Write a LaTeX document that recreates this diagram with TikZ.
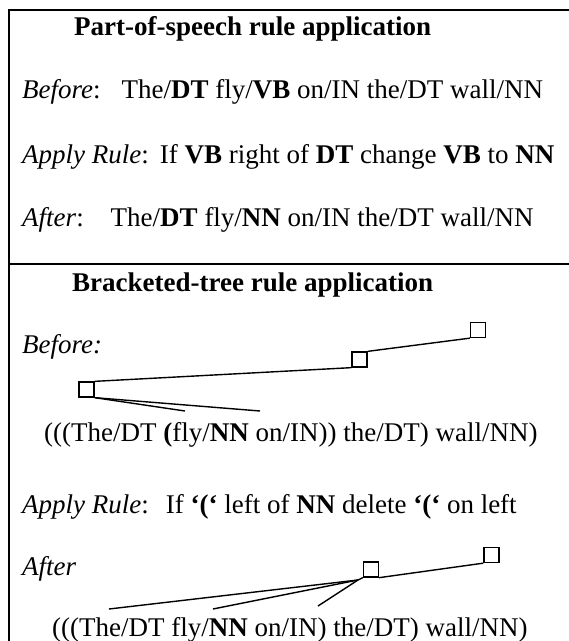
\documentclass[tikz,border=0pt]{standalone}
\usepackage{fontspec}
\setmainfont{Liberation Serif}
\begin{document}
\begin{tikzpicture}[x=1pt, y=-1pt,
% common options for the text lines:
txt/.style = {anchor=base west, inner sep=0, font=\fontsize{27}{32}\selectfont},
% common options for the tree boxes:
box/.style = {rectangle, draw, minimum size=15pt, inner sep=0, line width=1.3pt},
% common options for the branches:
branch/.style = {line width=1.4pt}]
\useasboundingbox (0,0) rectangle (569,641);
% frame
\draw[line width=2pt] (9,641) -- (9,10) -- (569,10);
\draw[line width=1.3pt] (9,264) -- (569,264);
% part-of-speech panel
\node[txt] (P0) at (74,35) {\textbf{Part-of-speech rule application}};
\node[txt] (P1) at (22,98) {\textit{Before}:\hspace{21pt}The/\textbf{DT} fly/\textbf{VB} on/IN the/DT wall/NN};
\node[txt] (P2) at (22,163) {\textit{Apply Rule}:\hspace{11pt}If \textbf{VB} right of \textbf{DT} change \textbf{VB} to \textbf{NN}};
\node[txt] (P3) at (22,226) {\textit{After}:\hspace{27pt}The/\textbf{DT} fly/\textbf{NN} on/IN the/DT wall/NN};
% bracketed-tree panel
\node[txt] (Q0) at (72,291) {\textbf{Bracketed-tree rule application}};
\node[txt] (Q1) at (22,353) {\textit{Before:}};
\node[txt] (Q2) at (44,441) {(((The/DT \textbf{(}fly/\textbf{NN} on/IN)) the/DT) wall/NN)};
\node[txt] (Q3) at (22,513) {\textit{Apply Rule}:\hspace{17pt}If \textbf{‘(‘} left of \textbf{NN} delete \textbf{‘(‘} on left};
\node[txt] (Q4) at (22,575) {\textit{After}};
\node[txt] (Q5) at (52,636) {(((The/DT fly/\textbf{NN} on/IN) the/DT) wall/NN)};
% tree before
\node[box] (R1) at (478,330) {};
\node[box] (R2) at (359.5,359.5) {};
\node[box] (R3) at (86.5,389.5) {};
\coordinate (L1) at (185,411);
\coordinate (L2) at (260,411);
\draw[branch] (R3.north east) -- (R2.south west);
\draw[branch] (R2.north east) -- (R1.south west);
\draw[branch] (R3.south east) -- (L1);
\draw[branch] (R3.south east) -- (L2);
% tree after
\node[box] (S1) at (491.5,555) {};
\node[box] (S2) at (371,569.5) {};
\coordinate (C) at (358,580);
\coordinate (M1) at (109,609);
\coordinate (M2) at (213,609);
\coordinate (M3) at (318,606);
\draw[branch] (M1) -- (C);
\draw[branch] (M2) -- (C);
\draw[branch] (M3) -- (C);
\draw[branch] (C) -- (S2.south west);
\draw[branch] (S2.south east) -- (S1.south west);
\end{tikzpicture}
\end{document}
